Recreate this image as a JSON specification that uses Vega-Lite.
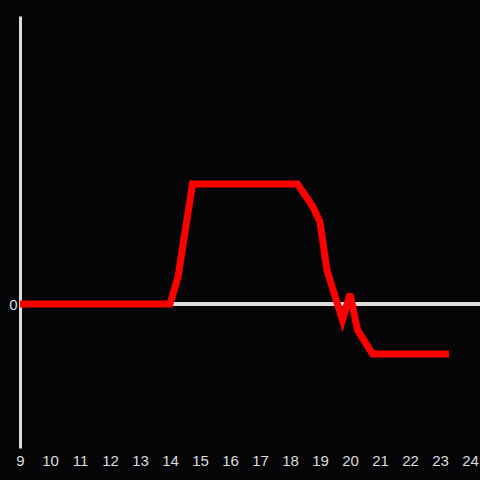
{
  "$schema": "https://vega.github.io/schema/vega-lite/v6.json",
  "width": 450,
  "height": 432,
  "autosize": {"type": "none"},
  "padding": {"left": 20, "top": 16, "right": 10, "bottom": 32},
  "background": "#050508",
  "config": {
    "view": {"stroke": null},
    "axis": {"labelColor": "#dddddd", "labelFont": "Liberation Sans", "labelFontSize": 15, "ticks": false, "grid": false, "title": null, "labelOverlap": false, "labelFlush": false},
    "axisX": {"domain": false, "labelPadding": 5},
    "axisY": {"domain": true, "domainColor": "#dddddd", "domainWidth": 3, "labelPadding": 3}
  },
  "data": {"values": [
    {"t": 9, "v": 0},
    {"t": 14, "v": 0},
    {"t": 14.27, "v": 0.19},
    {"t": 14.75, "v": 0.833},
    {"t": 18.25, "v": 0.833},
    {"t": 18.77, "v": 0.674},
    {"t": 19, "v": 0.57},
    {"t": 19.23, "v": 0.236},
    {"t": 19.75, "v": -0.111},
    {"t": 20, "v": 0.069},
    {"t": 20.25, "v": -0.18},
    {"t": 20.75, "v": -0.347},
    {"t": 23.3, "v": -0.347}
  ]},
  "layer": [
    {
      "mark": {"type": "rule", "color": "#dddddd", "strokeWidth": 2.5, "clip": false},
      "encoding": {
        "y": {"datum": 0, "type": "quantitative",
          "axis": {"values": [0], "format": "d", "labelFontSize": 15, "domain": true, "domainColor": "#dddddd", "domainWidth": 3, "ticks": false, "grid": false, "labelColor": "#dddddd", "labelPadding": 3}},
        "x": {"datum": 9, "type": "quantitative",
          "axis": {"values": [9,10,11,12,13,14,15,16,17,18,19,20,21,22,23,24], "format": "d", "labelOverlap": false, "labelFontSize": 15, "domain": false, "ticks": false, "grid": false, "labelColor": "#dddddd", "labelPadding": 5}},
        "x2": {"datum": 24.34}
      }
    },
    {
      "mark": {"type": "line", "color": "#ff0000", "strokeWidth": 7, "strokeJoin": "miter", "strokeCap": "butt"},
      "encoding": {
        "x": {
          "field": "t", "type": "quantitative",
          "scale": {"domain": [9, 24], "nice": false, "zero": false},
          "axis": {"values": [9,10,11,12,13,14,15,16,17,18,19,20,21,22,23,24], "format": "d", "labelOverlap": false, "labelFontSize": 15, "domain": false, "ticks": false, "grid": false, "labelColor": "#dddddd", "labelPadding": 5}
        },
        "y": {
          "field": "v", "type": "quantitative",
          "scale": {"domain": [-1, 2], "nice": false},
          "axis": {"values": [0], "format": "d", "labelFontSize": 15, "domain": true, "domainColor": "#dddddd", "domainWidth": 3, "ticks": false, "grid": false, "labelColor": "#dddddd", "labelPadding": 3}
        }
      }
    }
  ]
}
